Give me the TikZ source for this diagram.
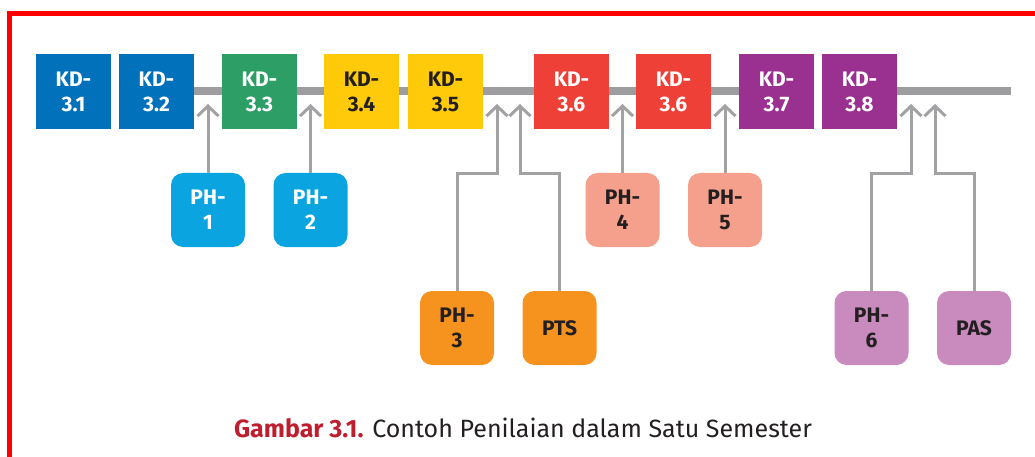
\documentclass[tikz,border=0pt]{standalone}
\usepackage{fontspec}
\setmainfont{Fira Sans}
\usetikzlibrary{arrows.meta}
\definecolor{kdblue}{HTML}{0071BA}
\definecolor{kdgreen}{HTML}{2D9E66}
\definecolor{kdyellow}{HTML}{FFCA0A}
\definecolor{kdred}{HTML}{EF4037}
\definecolor{kdpurple}{HTML}{9A3090}
\definecolor{phcyan}{HTML}{0AA5E0}
\definecolor{phsalmon}{HTML}{F5A08C}
\definecolor{phorange}{HTML}{F6921E}
\definecolor{phlilac}{HTML}{C98BBE}
\definecolor{bargray}{HTML}{9D9D9F}
\definecolor{darktext}{HTML}{231F20}
\definecolor{capred}{HTML}{BE1E2D}
\begin{document}
\begin{tikzpicture}[x=1pt,y=-1pt,
		kd/.style={minimum size=75pt,inner sep=0pt,align=center,text=white,font=\fontsize{21}{25}\selectfont\bfseries},
		ph/.style={kd,minimum size=74pt,rounded corners=12pt},
		dark/.style={text=darktext},
		bar/.style={line width=8pt,draw=bargray},
		arr/.style={line width=3pt,draw=bargray!95!white,-{Straight Barb[length=10pt,width=21pt]}}]
	\useasboundingbox (0,0) rectangle (1035,457);
	\draw[line width=5pt,red] (9.5,13.5) rectangle (1050,475);
	\node[kd,fill=kdblue] (kd31) at (73.5,91.5) {KD-\\3.1};
	\node[kd,fill=kdblue] (kd32) at (156.5,91.5) {KD-\\3.2};
	\node[kd,fill=kdgreen] (kd33) at (259.5,91.5) {KD-\\3.3};
	\node[kd,dark,fill=kdyellow] (kd34) at (361.5,91.5) {KD-\\3.4};
	\node[kd,dark,fill=kdyellow] (kd35) at (445.5,91.5) {KD-\\3.5};
	\node[kd,fill=kdred] (kd36) at (571.5,91.5) {KD-\\3.6};
	\node[kd,fill=kdred] (kd36b) at (673.5,91.5) {KD-\\3.6};
	\node[kd,fill=kdpurple] (kd37) at (776.5,91.5) {KD-\\3.7};
	\node[kd,fill=kdpurple] (kd38) at (859.5,91.5) {KD-\\3.8};
	\coordinate (lineend) at (1011,91.5);
	\foreach \a/\b in {kd32/kd33,kd33/kd34,kd34/kd35,kd35/kd36,kd36/kd36b,kd36b/kd37}
		\draw[bar] (\a.east) -- (\b.west);
	\draw[bar] (kd38.east) -- (lineend);
	\node[ph,fill=phcyan] (ph1) at (208,210) {PH-\\1};
	\node[ph,fill=phcyan] (ph2) at (310.5,210) {PH-\\2};
	\node[ph,dark,fill=phorange] (ph3) at (457,328) {PH-\\3};
	\node[ph,dark,fill=phorange] (pts) at (559.5,328) {PTS};
	\node[ph,dark,fill=phsalmon] (ph4) at (622.5,210) {PH-\\4};
	\node[ph,dark,fill=phsalmon] (ph5) at (725,210) {PH-\\5};
	\node[ph,dark,fill=phlilac] (ph6) at (871.5,328) {PH-\\6};
	\node[ph,dark,fill=phlilac] (pas) at (974,328) {PAS};
	\coordinate (t1) at (208,104);
	\coordinate (t2) at (310.5,104);
	\coordinate (t3) at (497,104);
	\coordinate (tpts) at (520,104);
	\coordinate (t4) at (622.5,104);
	\coordinate (t5) at (725,104);
	\coordinate (t6) at (911,104);
	\coordinate (tpas) at (935,104);
	\draw[arr] (ph1.north) -- (t1);
	\draw[arr] (ph2.north) -- (t2);
	\draw[arr] (ph4.north) -- (t4);
	\draw[arr] (ph5.north) -- (t5);
	\draw[arr] (ph3.north) |- ([yshift=-70pt]t3) -- (t3);
	\draw[arr] (pts.north) |- ([yshift=-70pt]tpts) -- (tpts);
	\draw[arr] (ph6.north) |- ([yshift=-70pt]t6) -- (t6);
	\draw[arr] (pas.north) |- ([yshift=-70pt]tpas) -- (tpas);
	\node[anchor=base,text=darktext,font=\fontsize{25}{30}\selectfont] (caption) at (523,437.5)
		{\textcolor{capred}{\bfseries Gambar 3.1.} Contoh Penilaian dalam Satu Semester};
\end{tikzpicture}
\end{document}
